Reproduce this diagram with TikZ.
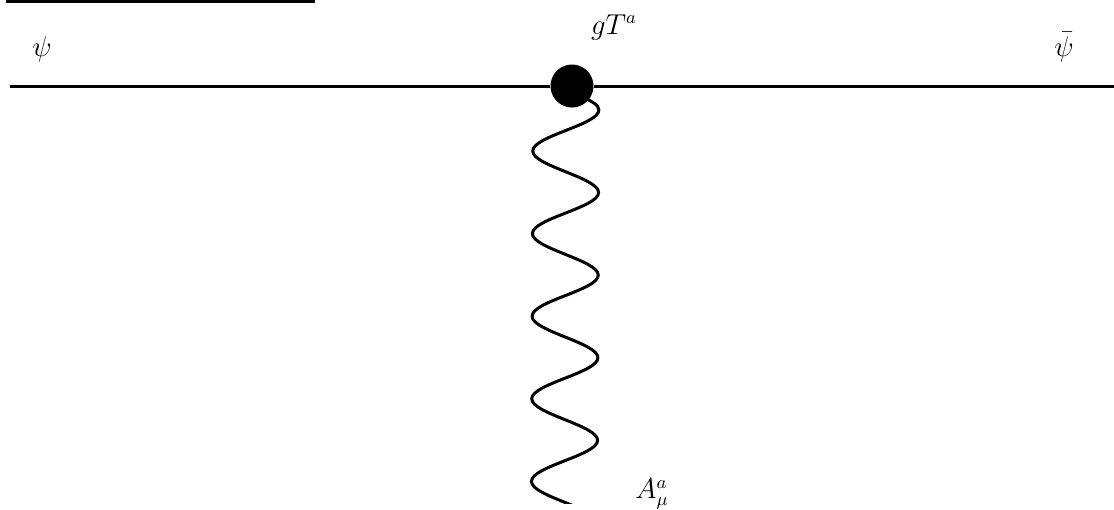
\documentclass[tikz,border=0pt]{standalone}
\usetikzlibrary{decorations.pathmorphing,positioning}
\tikzset{
  fermion/.style={line width=1.5pt,draw=black},
  gluon/.style={line width=1.5pt,draw=black,line cap=round,decorate,
    decoration={snake,segment length=41.3pt,amplitude=16.5pt}},
  vertex/.style={circle,fill=black,inner sep=0pt,minimum size=21.5pt},
  tag/.style={font=\fontsize{13.5}{15}\selectfont,inner sep=0pt},
}
\begin{document}
\begin{tikzpicture}[x=0.5pt,y=-0.5pt]
  \clip (0,0) rectangle (1114,509);
  % frame fragment at the top
  \draw[line width=1.1pt] (7,-20) rectangle (314,1.5);
  \coordinate (fin) at (10,86);
  \coordinate (fout) at (1114,86);
  \coordinate (gbeg) at (566,84);
  \coordinate (gend) at (564,590);
  % wave runs past the end and is cut at its last crossing
  \begin{scope}
    \clip (0,0) rectangle (1114,503);
    \draw[gluon] (gbeg) -- (gend);
  \end{scope}
  \node[vertex] (v) at (572,86) {};
  \draw[fermion] (fin) -- (v) -- (fout);
  \node[tag] (psi) at (42,49) {$\psi$};
  \node[tag] (psibar) at (1064,47) {$\bar\psi$};
  \node[tag] (coup) at (614,27) {$gT^a$};
  \node[tag] (field) at (652,494) {$A^a_\mu$};
\end{tikzpicture}
\end{document}
